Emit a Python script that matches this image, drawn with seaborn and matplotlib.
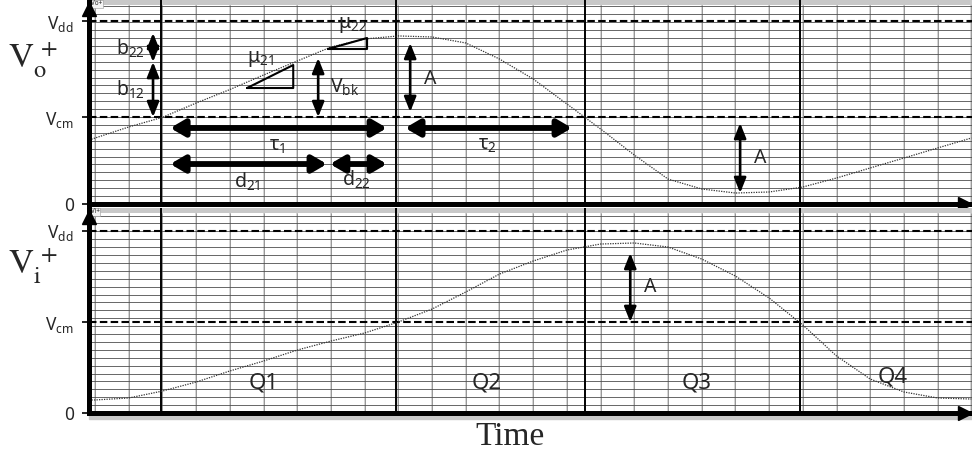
import matplotlib
matplotlib.use("Agg")
import matplotlib.pyplot as plt
from matplotlib.patches import Rectangle
import seaborn as sns

sns.set_style("white")
plt.rcParams['font.family'] = ['Noto Sans', 'DejaVu Sans']
plt.rcParams['mathtext.fontset'] = 'custom'
plt.rcParams['mathtext.rm'] = 'Noto Sans'
plt.rcParams['mathtext.it'] = 'Noto Sans:italic'
plt.rcParams['mathtext.bf'] = 'Noto Sans:bold'

# time in grid divisions, voltages in grid divisions
t = [-0.18, 0, 1, 2, 3, 4, 5, 6, 7, 8, 9, 10, 11, 12, 13,
     14, 15, 16, 17, 18, 19, 20, 21, 22, 23, 24, 25, 26]
vo = [8.10, 8.35, 9.75, 10.97, 12.78, 14.49, 16.33, 18.10, 19.87, 20.89,
      21.27, 21.14, 20.38, 18.35, 15.82, 12.66, 9.49, 6.20, 3.16, 1.90,
      1.39, 1.52, 2.15, 3.29, 4.56, 5.82, 7.09, 8.35]
vi = [1.65, 1.65, 1.90, 2.78, 3.92, 5.32, 6.58, 7.97, 9.11, 10.13,
      11.52, 13.16, 15.32, 17.59, 19.24, 20.63, 21.39, 21.52, 21.01, 19.49,
      17.34, 14.56, 11.14, 7.22, 4.30, 2.66, 1.90, 1.77]
quadrants = [1.96, 8.93, 14.54, 20.92]
q_labels = ['Q1', 'Q2', 'Q3', 'Q4']
vdd = 23.1
vcm_o = 11.0
vcm_i = 11.5

XMIN, XMAX = -0.18, 26.02
GRAY = '#c8c8c8'

fig = plt.figure(figsize=(9.72, 4.59), dpi=100)
ax_o = fig.add_axes([89 / 972, 1 - 204 / 459, 883 / 972, 204 / 459])
ax_i = fig.add_axes([89 / 972, 1 - 413 / 459, 883 / 972, 205 / 459])


def panel(ax, v, vcm, ytop, bar, tab):
    ax.set_xlim(XMIN, XMAX)
    ax.set_ylim(0, ytop)
    ax.axhspan(bar, ytop, color=GRAY, zorder=1, lw=0)
    ax.vlines(range(27), 0, bar, color='#d4d4d4', lw=1.4, zorder=0)
    ax.vlines(range(27), 0, bar, color='#808080', lw=0.5, zorder=0.5)
    ax.hlines([y for y in range(1, 26) if y < bar], XMIN, XMAX, color='#4d4d4d', lw=0.6, zorder=0.5)
    ax.axhline(vdd, color='k', lw=1.5, ls=(0, (3.6, 1.6)), zorder=3)
    ax.axhline(vcm, color='k', lw=1.5, ls=(0, (3.6, 1.6)), zorder=3)
    ax.vlines(quadrants, 0, ytop, color='k', lw=1.4, zorder=3)
    sns.lineplot(x=t, y=v, ax=ax, color='#333333', lw=0.9, linestyle=(0, (1, 1)), zorder=4)

    ax.set_xticks([])
    ax.set_yticks([0, vcm, vdd])
    ax.set_yticklabels(['0', r'V$_{\mathrm{cm}}$', r'V$_{\mathrm{dd}}$'], fontsize=12.5)
    ax.tick_params(axis='y', length=5, width=1.2, pad=6, left=True, color='k')
    for s in ['top', 'right']:
        ax.spines[s].set_visible(False)
    for s in ['left', 'bottom']:
        ax.spines[s].set_linewidth(3.6)
        ax.spines[s].set_color('k')
        ax.spines[s].set_zorder(6)
    ax.plot([XMIN], [ytop - 1.1], marker='^', ms=10, color='k', clip_on=False, zorder=7)
    ax.plot([XMAX - 0.2], [0], marker='>', ms=10, color='k', clip_on=False, zorder=7)
    ax.text(XMIN + 0.05, ytop - 0.05, tab, fontsize=4.5, va='top', ha='left', zorder=5,
            bbox=dict(boxstyle='square,pad=0.1', fc='#f4f4f4', ec='#999999', lw=0.4))


panel(ax_o, vo, vcm_o, 25.82, 25.2, 'Vo+')
panel(ax_i, vi, vcm_i, 25.95, 25.3, 'Vi+')


def darrow(ax, p0, p1, thick=False):
    if thick:
        props = dict(arrowstyle='<|-|>,head_length=0.6,head_width=0.35', lw=4.2,
                     mutation_scale=14, color='k', shrinkA=0, shrinkB=0)
    else:
        props = dict(arrowstyle='<|-|>,head_length=0.75,head_width=0.3', lw=1.9,
                     mutation_scale=12, color='k', shrinkA=0, shrinkB=0)
    ax.annotate('', xy=p1, xytext=p0, arrowprops=props, zorder=5)


lab = dict(fontsize=14, ha='center', va='center', zorder=5)

# Vo+ panel annotations
darrow(ax_o, (1.72, 21.65), (1.72, 17.97))
darrow(ax_o, (1.72, 17.97), (1.72, 11.0))
ax_o.text(1.05, 19.6, r'b$_{\mathrm{22}}$', **lab)
ax_o.text(1.05, 14.5, r'b$_{\mathrm{12}}$', **lab)
ax_o.plot([4.51, 5.88, 5.88, 4.51], [14.68, 17.59, 14.68, 14.68], color='k', lw=1.5, zorder=5)
ax_o.text(4.9, 18.4, r'μ$_{\mathrm{21}}$', **lab)
ax_o.plot([6.91, 8.07, 8.07, 6.91], [19.62, 21.01, 19.62, 19.62], color='k', lw=1.5, zorder=5)
ax_o.text(7.63, 22.6, r'μ$_{\mathrm{22}}$', **lab)
darrow(ax_o, (6.62, 18.48), (6.62, 11.0))
ax_o.text(7.4, 14.8, r'V$_{\mathrm{bk}}$', **lab)
darrow(ax_o, (9.35, 20.38), (9.35, 11.65))
ax_o.text(9.94, 15.8, 'A', **lab)
darrow(ax_o, (19.14, 10.25), (19.14, 1.39))
ax_o.text(19.73, 5.82, 'A', **lab)
darrow(ax_o, (2.23, 9.62), (8.66, 9.62), thick=True)
ax_o.text(5.4, 7.3, r'τ$_{\mathrm{1}}$', **lab)
darrow(ax_o, (9.2, 9.62), (14.15, 9.62), thick=True)
ax_o.text(11.63, 7.5, r'τ$_{\mathrm{2}}$', **lab)
darrow(ax_o, (2.23, 5.06), (6.88, 5.06), thick=True)
ax_o.text(4.51, 2.8, r'd$_{\mathrm{21}}$', **lab)
darrow(ax_o, (6.97, 5.06), (8.66, 5.06), thick=True)
ax_o.text(7.77, 3.0, r'd$_{\mathrm{22}}$', **lab)

# Vi+ panel annotations
darrow(ax_i, (15.88, 20.25), (15.88, 11.52))
ax_i.text(16.47, 15.95, 'A', **lab)
for q, xc, yc in zip(q_labels, [4.99, 11.63, 17.86, 23.68], [3.8, 3.8, 3.8, 4.56]):
    ax_i.text(xc, yc, q, fontsize=16, ha='center', va='center', zorder=5)

fig.add_artist(Rectangle((89 / 972, 1 - 419 / 459), 883 / 972, 4 / 459,
                         transform=fig.transFigure, color=GRAY, zorder=0))

fig.text(8 / 972, 1 - 60 / 459, r'$\mathrm{V_o^{\,+}}$', fontsize=25,
         math_fontfamily='stix', ha='left', va='center')
fig.text(8 / 972, 1 - 266 / 459, r'$\mathrm{V_i^{\,+}}$', fontsize=25,
         math_fontfamily='stix', ha='left', va='center')
fig.text(510 / 972, 1 - 437 / 459, 'Time', fontsize=24, family='Liberation Serif',
         ha='center', va='center')

fig.savefig('out.png', dpi=100)
